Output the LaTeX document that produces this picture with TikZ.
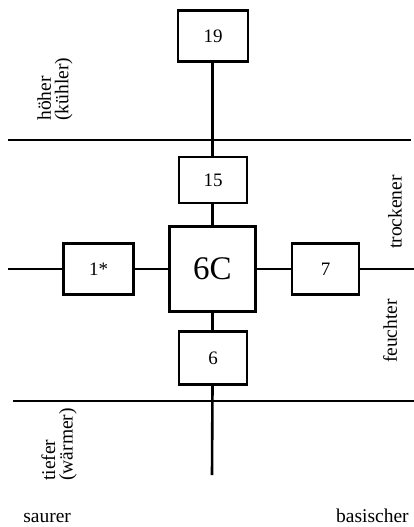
\documentclass[tikz,border=0pt]{standalone}
\usepackage{fontspec}
\setmainfont{Liberation Serif}
\begin{document}
\begin{tikzpicture}[x=1pt,y=-1pt,
  line width=2.6pt,
  site/.style={draw, rectangle, fill=white, inner sep=0pt,
    font=\fontsize{19}{19}\selectfont},
  axislabel/.style={inner sep=0pt, align=left,
    font=\fontsize{19.5}{17.5}\selectfont}]
\useasboundingbox (0,0) rectangle (414,527);

% boundary lines of the ecogram
\draw (8,140) -- (411,140);
\draw (13,401) -- (414,401);

% end points of the open axes
\coordinate (left)   at (8,269);
\coordinate (right)  at (414,269);
\coordinate (bottom) at (212,475);

% site boxes
\node[site, minimum width=70pt, minimum height=51pt] (n19) at (213,36) {19};
\node[site, minimum width=68pt, minimum height=46pt] (n15) at (213,180) {15};
\node[site, minimum width=86pt, minimum height=85pt,
      font=\fontsize{33}{33}\selectfont] (n6C) at (212.5,269) {6C};
\node[site, minimum width=70pt, minimum height=51pt] (n1) at (98.5,269) {1*};
\node[site, minimum width=67pt, minimum height=51pt] (n7) at (325.5,269) {7};
\node[site, minimum width=68pt, minimum height=53pt] (n6) at (213,358) {6};

% connectors
\draw (n19.south -| n6C.center) -- (n15.north -| n6C.center);
\draw (n15.south -| n6C.center) -- (n6C.north);
\draw (n6C.south) -- (n6.north -| n6C.center);
\draw (n6.south -| n6C.center) -- (bottom);
\draw (left) -- (n1.west);
\draw (n1.east) -- (n6C.west);
\draw (n6C.east) -- (n7.west);
\draw (n7.east) -- (right);

% axis labels
\node[axislabel, rotate=90, anchor=west] (hi) at (55,122) {höher\\(kühler)};
\node[axislabel, rotate=90, anchor=west] (lo) at (59,482) {tiefer\\(wärmer)};
\node[axislabel, rotate=90] (dry) at (395,212) {trockener};
\node[axislabel, rotate=90] (wet) at (390,331) {feuchter};
\node[axislabel, anchor=base west] (acid) at (22,522) {saurer};
\node[axislabel, anchor=base east] (base) at (410,522) {basischer};
\end{tikzpicture}
\end{document}
